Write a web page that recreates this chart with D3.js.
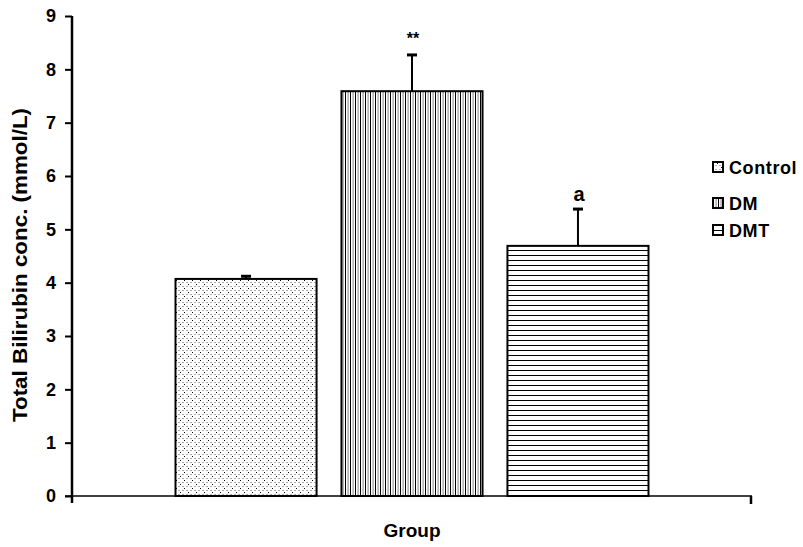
<!DOCTYPE html>
<html>
<head>
<meta charset="utf-8">
<script src="https://cdn.jsdelivr.net/npm/d3@7"></script>
<style>
  body { margin: 0; background: #fff; }
  text { font-family: "Liberation Sans", Arial, sans-serif; font-weight: bold; fill: #000; }
</style>
</head>
<body>
<div id="chart"></div>
<script>
// data
const groups = ["Control", "DM", "DMT"];
const means = [4.07, 7.59, 4.69];
const errors = [0.05, 0.68, 0.69];
const marks = ["", "**", "a"];
const yTicks = [0, 1, 2, 3, 4, 5, 6, 7, 8, 9];

const width = 803, height = 547;
const plot = { left: 72, right: 752, top: 16, bottom: 496 };

const svg = d3.select("#chart").append("svg")
  .attr("width", width)
  .attr("height", height);

svg.append("rect").attr("width", width).attr("height", height).attr("fill", "#fff");

// fill patterns
const defs = svg.append("defs");

let pDots = defs.append("pattern")
  .attr("id", "pat-control")
  .attr("patternUnits", "userSpaceOnUse")
  .attr("width", 8).attr("height", 8);
pDots.append("rect").attr("width", 8).attr("height", 8).attr("fill", "#fff");
[[0, 0], [4, 4]].forEach(function (p) {
  pDots.append("rect").attr("x", p[0]).attr("y", p[1]).attr("width", 1).attr("height", 1).attr("fill", "#000");
});
[[2, 2], [6, 6], [2, 6], [6, 2]].forEach(function (p) {
  pDots.append("rect").attr("x", p[0]).attr("y", p[1]).attr("width", 2).attr("height", 1).attr("fill", "#aaa");
});

let pVert = defs.append("pattern")
  .attr("id", "pat-dm")
  .attr("patternUnits", "userSpaceOnUse")
  .attr("width", 5).attr("height", 5);
pVert.append("rect").attr("width", 5).attr("height", 5).attr("fill", "#fff");
pVert.append("rect").attr("x", 0).attr("width", 1).attr("height", 5).attr("fill", "#000");
pVert.append("rect").attr("x", 2.5).attr("width", 1.2).attr("height", 5).attr("fill", "#999");

let pHoriz = defs.append("pattern")
  .attr("id", "pat-dmt")
  .attr("patternUnits", "userSpaceOnUse")
  .attr("width", 5).attr("height", 5);
pHoriz.append("rect").attr("width", 5).attr("height", 5).attr("fill", "#fff");
pHoriz.append("rect").attr("y", 0).attr("width", 5).attr("height", 1).attr("fill", "#000");

const fills = ["url(#pat-control)", "url(#pat-dm)", "url(#pat-dmt)"];

// scales
const y = d3.scaleLinear().domain([0, 9]).range([plot.bottom, plot.top]);
const x = d3.scaleBand()
  .domain(groups)
  .range([175.5, 648.5])
  .paddingInner(0.15)
  .paddingOuter(0);

// bars
svg.selectAll(".bar")
  .data(groups)
  .join("rect")
  .attr("class", "bar")
  .attr("x", d => x(d))
  .attr("y", (d, i) => y(means[i]))
  .attr("width", x.bandwidth())
  .attr("height", (d, i) => y(0) - y(means[i]))
  .attr("fill", (d, i) => fills[i])
  .attr("stroke", "#000")
  .attr("stroke-width", 2);

// error bars (upper only)
const eb = svg.selectAll(".err")
  .data(groups)
  .join("g")
  .attr("class", "err");
eb.append("line")
  .attr("x1", d => x(d) + x.bandwidth() / 2)
  .attr("x2", d => x(d) + x.bandwidth() / 2)
  .attr("y1", (d, i) => y(means[i]))
  .attr("y2", (d, i) => y(means[i] + errors[i]))
  .attr("stroke", "#000")
  .attr("stroke-width", 2);
eb.append("line")
  .attr("x1", d => x(d) + x.bandwidth() / 2 - 5)
  .attr("x2", d => x(d) + x.bandwidth() / 2 + 5)
  .attr("y1", (d, i) => y(means[i] + errors[i]))
  .attr("y2", (d, i) => y(means[i] + errors[i]))
  .attr("stroke", "#000")
  .attr("stroke-width", 3);

// significance marks
svg.selectAll(".mark")
  .data(groups)
  .join("text")
  .attr("class", "mark")
  .attr("x", d => x(d) + x.bandwidth() / 2 + 1)
  .attr("y", (d, i) => y(means[i] + errors[i]) - (i === 1 ? 11 : 8))
  .attr("text-anchor", "middle")
  .style("font-size", (d, i) => i === 1 ? "16px" : "20px")
  .attr("fill", (d, i) => i === 1 ? "#333" : "#000")
  .text((d, i) => marks[i]);

// y axis
const yAxis = d3.axisLeft(y).tickValues(yTicks).tickSize(7).tickPadding(9);
const gy = svg.append("g")
  .attr("transform", "translate(" + plot.left + ",0)")
  .call(yAxis);
gy.select(".domain").attr("stroke", "#000").attr("stroke-width", 2.5)
  .attr("d", "M0," + plot.top + "V" + (plot.bottom + 7));
gy.selectAll(".tick line").attr("stroke", "#000").attr("stroke-width", 2);
gy.selectAll(".tick text")
  .style("font-size", "18px")
  .style("font-family", "'Liberation Sans', Arial, sans-serif")
  .style("font-weight", "bold")
  .attr("fill", "#000");

// x axis line with end ticks
svg.append("line")
  .attr("x1", plot.left - 7).attr("x2", plot.right)
  .attr("y1", plot.bottom).attr("y2", plot.bottom)
  .attr("stroke", "#000").attr("stroke-width", 1.5);
svg.append("line")
  .attr("x1", plot.right - 1).attr("x2", plot.right - 1)
  .attr("y1", plot.bottom).attr("y2", plot.bottom + 8)
  .attr("stroke", "#000").attr("stroke-width", 2.5);

// axis titles
svg.append("text")
  .attr("x", (plot.left + plot.right) / 2)
  .attr("y", 537)
  .attr("text-anchor", "middle")
  .style("font-size", "19px")
  .text("Group");

svg.append("text")
  .attr("transform", "translate(27," + 265 + ") rotate(-90)")
  .attr("text-anchor", "middle")
  .attr("textLength", 314)
  .attr("lengthAdjust", "spacingAndGlyphs")
  .style("font-size", "20px")
  .text("Total Bilirubin conc. (mmol/L)");

// legend
const legendY = [167, 203, 230];
const lg = svg.selectAll(".legend")
  .data(groups)
  .join("g")
  .attr("class", "legend")
  .attr("transform", (d, i) => "translate(713," + legendY[i] + ")");
lg.append("rect")
  .attr("x", 0).attr("y", -5)
  .attr("width", 10).attr("height", 10)
  .attr("fill", (d, i) => fills[i])
  .attr("stroke", "#000")
  .attr("stroke-width", 2);
lg.append("text")
  .attr("x", 16)
  .attr("y", 6.5)
  .style("font-size", "18px")
  .style("letter-spacing", "0.6px")
  .text(d => d);
</script>
</body>
</html>
